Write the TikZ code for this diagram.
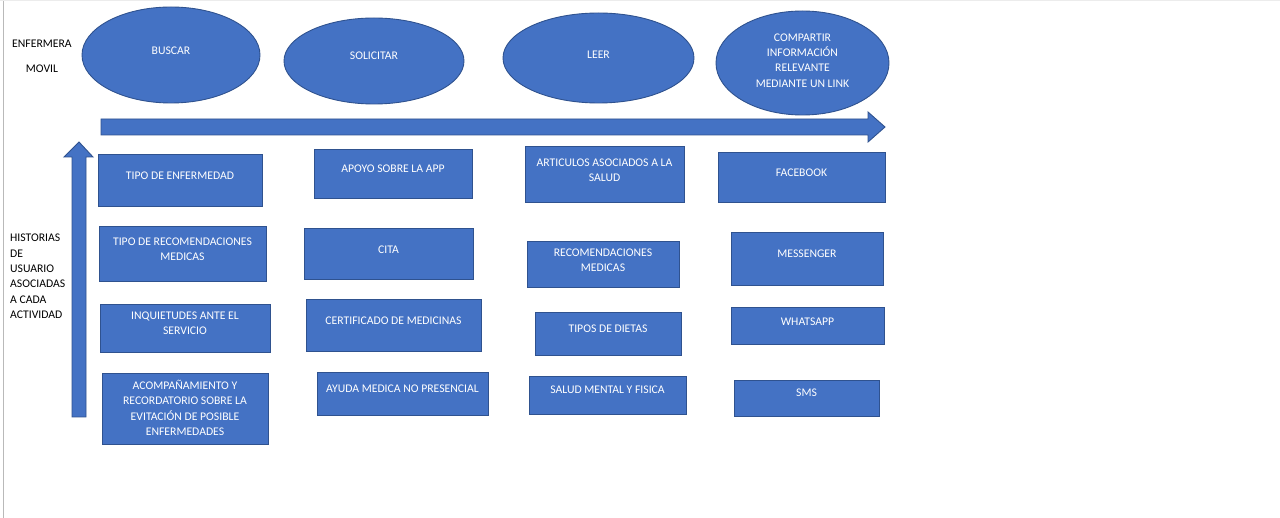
\documentclass[tikz,border=0pt]{standalone}
\usepackage{fontspec}
\setmainfont{Carlito}
\usetikzlibrary{shapes.geometric}
\definecolor{ofblue}{HTML}{4472C4}
\definecolor{ofedge}{HTML}{2F528F}
\tikzset{
  bx/.style={draw=ofedge, fill=ofblue, line width=0.9pt, rectangle, inner sep=0pt},
  el/.style={draw=ofedge, fill=ofblue, line width=0.9pt, ellipse, inner sep=0pt},
  tx/.style={text=white, align=center, inner sep=0pt, font=\fontsize{11.7}{15.4}\selectfont},
  lb/.style={text=black, align=left, inner sep=0pt, font=\fontsize{11.7}{15.4}\selectfont},
  blockarrow/.style={draw=ofedge, fill=ofblue, line width=0.9pt, line join=miter}
}
\newcommand\mybox[7]{%
  \node[bx, minimum width={(#4-#2)*1pt}, minimum height={(#5-#3)*1pt}] (#1) at ({(#2+#4)/2},{(#3+#5)/2}) {};
  \node[tx] (#1t) at ({(#2+#4)/2},#6) {#7};}
\newcommand\myell[7]{%
  \node[el, minimum width={(#4-#2)*1pt}, minimum height={(#5-#3)*1pt}] (#1) at ({(#2+#4)/2},{(#3+#5)/2}) {};
  \node[tx] (#1t) at ({(#2+#4)/2},#6) {#7};}
\begin{document}
\begin{tikzpicture}[x=1pt,y=-1pt]
\useasboundingbox (0,0) rectangle (1280,518);
\fill[white] (0,0) rectangle (1280,518);
\draw[gray!55, line width=1.2pt] (3.5,0) -- (3.5,518);
\draw[gray!15, line width=1pt] (0,0.5) -- (1280,0.5);

% ellipses
\myell{e1}{82}{7}{260}{103}{51}{BUSCAR}
\myell{e2}{284}{18}{464}{104}{56}{SOLICITAR}
\myell{e3}{503}{13}{694}{103}{55}{LEER}
\myell{e4}{716}{11}{889}{115}{60.5}{COMPARTIR\\INFORMACIÓN\\RELEVANTE\\MEDIANTE UN LINK}

% block arrows
\draw[blockarrow] (101,119) -- (868,119) -- (868,112) -- (885,127) -- (868,142) -- (868,135) -- (101,135) -- cycle;
\draw[blockarrow] (72,417) -- (72,157) -- (64,157) -- (79,142) -- (93,157) -- (86,157) -- (86,417) -- cycle;

% labels
\node[lb, anchor=west] (l1) at (12,44) {ENFERMERA};
\node[lb] (l2) at (42,69) {MOVIL};
\node[lb, anchor=west] (l3) at (10,276.5) {HISTORIAS\\DE\\USUARIO\\ASOCIADAS\\A CADA\\ACTIVIDAD};

% column 1
\mybox{a1}{98}{154}{262}{206}{176}{TIPO DE ENFERMEDAD}
\mybox{a2}{99}{226}{266}{281}{249.5}{TIPO DE RECOMENDACIONES\\MEDICAS}
\mybox{a3}{100}{304}{270}{352}{323.5}{INQUIETUDES ANTE EL\\SERVICIO}
\mybox{a4}{102}{373}{268}{444}{408}{ACOMPAÑAMIENTO Y\\RECORDATORIO SOBRE LA\\EVITACIÓN DE POSIBLE\\ENFERMEDADES}

% column 2
\mybox{b1}{314}{149}{472}{198}{169}{APOYO SOBRE LA APP}
\mybox{b2}{304}{228}{473}{279}{250}{CITA}
\mybox{b3}{306}{299}{481}{351}{321}{CERTIFICADO DE MEDICINAS}
\mybox{b4}{317}{372}{488}{415}{389}{AYUDA MEDICA NO PRESENCIAL}

% column 3
\mybox{c1}{525}{146}{684}{202}{170}{ARTICULOS ASOCIADOS A LA\\SALUD}
\mybox{c2}{527}{241}{679}{287}{260.5}{RECOMENDACIONES\\MEDICAS}
\mybox{c3}{535}{312}{681}{355}{329}{TIPOS DE DIETAS}
\mybox{c4}{529}{376}{686}{414}{390}{SALUD MENTAL Y FISICA}

% column 4
\mybox{d1}{718}{152}{885}{202}{173}{FACEBOOK}
\mybox{d2}{731}{232}{883}{285}{254}{MESSENGER}
\mybox{d3}{731}{307}{884}{344}{322}{WHATSAPP}
\mybox{d4}{734}{380}{879}{416}{393}{SMS}
\end{tikzpicture}
\end{document}
